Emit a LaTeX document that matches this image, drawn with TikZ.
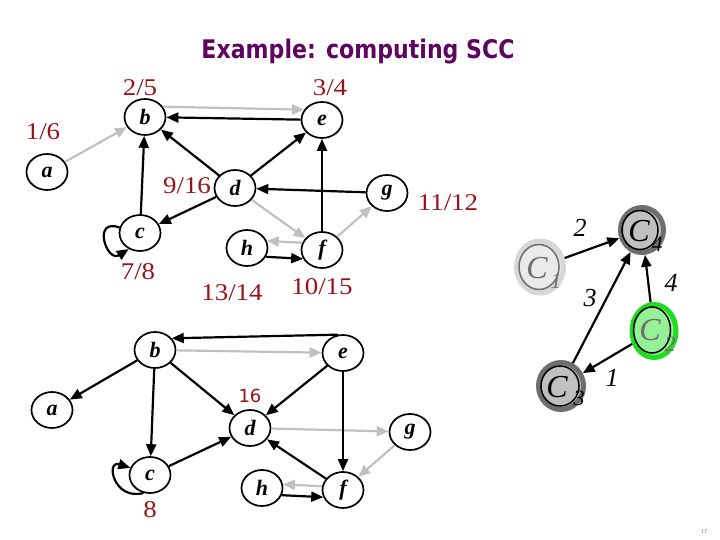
\documentclass[tikz,border=0pt]{standalone}
\usepackage{fontspec}
\usepackage{graphicx}
\setmainfont{Liberation Serif}
\newfontfamily\titlefont{DejaVu Sans}
\usetikzlibrary{shapes.geometric,arrows.meta}
\definecolor{lbl}{RGB}{150,20,25}
\definecolor{ttl}{RGB}{95,5,95}
\definecolor{lg}{RGB}{192,192,192}
\definecolor{ringdark}{RGB}{110,110,110}
\definecolor{filldark}{RGB}{192,192,192}
\definecolor{ringlight}{RGB}{215,215,215}
\definecolor{filllight}{RGB}{234,234,234}
\definecolor{ringgreen}{RGB}{30,220,30}
\definecolor{fillgreen}{RGB}{150,240,150}
\newcommand\wideTxt[1]{\scalebox{1.12}[1]{#1}}
\tikzset{
  vtx/.style={ellipse, draw, line width=1.7pt, minimum width=41pt, minimum height=36pt, inner sep=0pt,
    font=\fontsize{22}{22}\selectfont\bfseries\itshape},
  lab/.style={text=lbl, inner sep=0pt, font=\fontsize{24}{24}\selectfont},
  blk/.style={draw=black, line width=2.2pt, -{Triangle[length=12pt,width=10pt]}},
  gry/.style={draw=lg, line width=2.2pt, -{Triangle[length=12pt,width=10pt]}},
  scc/.style={ellipse, line width=5pt, inner sep=0pt},
  sccin/.style={ellipse, line width=1.5pt, inner sep=0pt},
  ctext/.style={inner sep=0pt, font=\fontsize{32}{32}\selectfont\itshape},
  csub/.style={inner sep=0pt, font=\fontsize{22}{22}\selectfont\itshape},
  elab/.style={inner sep=0pt, font=\fontsize{26}{26}\selectfont\itshape},
}
\begin{document}
\begin{tikzpicture}[x=1pt,y=-1pt]
\useasboundingbox (0,0) rectangle (720,540);
% title
\node[text=ttl, inner sep=0pt, anchor=base] (title) at (358,59)
  {\resizebox{313pt}{19.5pt}{\titlefont\bfseries\fontsize{24}{25}\selectfont Example: computing SCC}};

% ---------- top graph ----------
\node[vtx] (b1) at (145,117) {b};
\node[vtx] (e1) at (322,120) {e};
\node[vtx] (a1) at (47,172) {a};
\node[vtx] (d1) at (235,188) {d};
\node[vtx] (c1) at (140,233) {c};
\node[vtx] (h1) at (247,248) {h};
\node[vtx] (f1) at (322,250) {f};
\node[vtx] (g1) at (387,193) {g};

\node[lab] (l25) at (140,88) {\wideTxt{2/5}};
\node[lab] (l34) at (330,88) {\wideTxt{3/4}};
\node[lab] (l16) at (43,132) {\wideTxt{1/6}};
\node[lab] (l916) at (187,186) {\wideTxt{9/16}};
\node[lab] (l78) at (138,272) {\wideTxt{7/8}};
\node[lab] (l1314) at (232,293) {\wideTxt{13/14}};
\node[lab] (l1015) at (322,287) {\wideTxt{10/15}};
\node[lab] (l1112) at (448,203) {\wideTxt{11/12}};

\draw[gry] (a1) -- (b1);
\draw[gry] (b1.30) -- (e1.150);
\draw[blk] (e1) -- (b1);
\draw[blk] (d1) -- (b1);
\draw[blk] (d1) -- (e1);
\draw[blk] (c1) -- (b1);
\draw[blk] (d1) -- (c1);
\draw[blk] (c1.165) .. controls +(-28,-10) and +(-22,14) .. (c1.235);
\draw[gry] (d1) -- (f1);
\draw[gry] (f1.160) -- (h1.20);
\draw[blk] (h1.-25) -- (f1.205);
\draw[blk] (f1) -- (e1);
\draw[blk] (g1) -- (d1);
\draw[gry] (f1) -- (g1);

% ---------- bottom graph ----------
\node[vtx] (b2) at (155,350) {b};
\node[vtx] (e2) at (343,353) {e};
\node[vtx] (a2) at (52,410) {a};
\node[vtx] (d2) at (250,428) {d};
\node[vtx] (g2) at (410,432) {g};
\node[vtx] (c2) at (150,475) {c};
\node[vtx] (h2) at (262,488) {h};
\node[vtx] (f2) at (343,490) {f};

\node[text=lbl, inner sep=0pt, font=\titlefont\fontsize{18}{18}\selectfont] (l16b) at (250,396) {16};
\node[lab] (l8b) at (150,510) {\wideTxt{8}};

\draw[blk] (e2.105) -- (b2.35);
\draw[gry] (b2) -- (e2);
\draw[blk] (b2) -- (a2);
\draw[blk] (b2) -- (d2);
\draw[blk] (e2) -- (d2);
\draw[blk] (b2) -- (c2);
\draw[blk] (c2) -- (d2);
\draw[blk] (c2.250) .. controls +(-30,8) and +(-25,-8) .. (c2.160);
\draw[gry] (d2) -- (g2);
\draw[gry] (g2) -- (f2);
\draw[blk] (f2) -- (d2);
\draw[blk] (e2) -- (f2);
\draw[gry] (f2.170) -- (h2.10);
\draw[blk] (h2.-20) -- (f2.200);

% ---------- component graph ----------
\node[scc, draw=ringdark, fill=filldark, minimum width=43pt, minimum height=45pt] (C4) at (642,230) {};
\node[sccin, draw=black, minimum width=36pt, minimum height=39pt] (C4i) at (640,230) {};
\node[ctext] (C4t) at (639,231) {C};
\node[csub] (C4s) at (657,244) {4};

\node[scc, draw=ringlight, fill=filllight, minimum width=47pt, minimum height=52pt] (C1) at (540,267) {};
\node[sccin, draw=ringdark, minimum width=40pt, minimum height=45pt] (C1i) at (539,267) {};
\node[ctext, text=ringdark] (C1t) at (537,268) {C};
\node[csub, text=ringdark] (C1s) at (556,281) {1};

\node[scc, draw=ringgreen, fill=fillgreen, minimum width=44pt, minimum height=53pt] (C2) at (654,331) {};
\node[sccin, draw=black, minimum width=37pt, minimum height=46pt] (C2i) at (652,330) {};
\node[ctext, text=ringdark] (C2t) at (650,330) {C};
\node[csub, text=ringdark] (C2s) at (670,344) {2};

\node[scc, draw=ringdark, fill=filldark, minimum width=45pt, minimum height=47pt] (C3) at (561,386) {};
\node[sccin, draw=black, minimum width=38pt, minimum height=40pt] (C3i) at (560,386) {};
\node[ctext] (C3t) at (557,387) {C};
\node[csub] (C3s) at (579,398) {3};

\draw[blk] (C1) -- (C4);
\draw[blk] (C3) -- (C4);
\draw[blk] (C2) -- (C4);
\draw[blk] (C2) -- (C3);

\node[elab] (e2l) at (580,228) {2};
\node[elab] (e3l) at (590,298) {3};
\node[elab] (e4l) at (671,283) {4};
\node[elab] (e1l) at (612,378) {1};

\node[text=gray, inner sep=0pt, font=\sffamily\fontsize{6}{6}\selectfont] (pg) at (704,531) {17};
\end{tikzpicture}
\end{document}
